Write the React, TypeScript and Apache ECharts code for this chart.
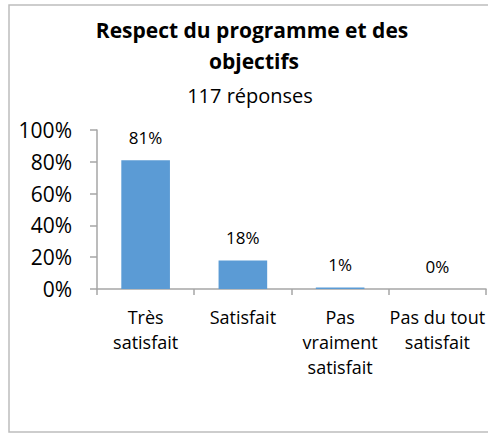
import React, { useEffect, useRef } from "react";
import * as echarts from "echarts";

const categories = ["Très\nsatisfait", "Satisfait", "Pas\nvraiment\nsatisfait", "Pas du tout\nsatisfait"];
const values = [81, 18, 1, 0];
const titleLines = ["Respect du programme et des", "objectifs"];
const subtitle = "117 réponses";

const FONT = "'Open Sans', Lato, sans-serif";

export default function App() {
  const ref = useRef<HTMLDivElement>(null);
  useEffect(() => {
    if (!ref.current) return;
    const chart = echarts.init(ref.current, undefined, { renderer: "svg" });
    chart.setOption({
      animation: false,
      backgroundColor: "#ffffff",
      textStyle: { fontFamily: FONT },
      graphic: [
        {
          type: "rect",
          shape: { x: 9, y: 5, width: 490, height: 427 },
          style: { fill: "none", stroke: "#BDBDBD", lineWidth: 1.5 },
          silent: true,
        },
        {
          type: "text",
          x: 252,
          y: 30,
          style: {
            text: titleLines[0],
            font: `bold 21px ${FONT}`,
            fill: "#000",
            textAlign: "center",
            textVerticalAlign: "middle",
          },
        },
        {
          type: "text",
          x: 254,
          y: 61,
          style: {
            text: titleLines[1],
            font: `bold 21px ${FONT}`,
            fill: "#000",
            textAlign: "center",
            textVerticalAlign: "middle",
          },
        },
        {
          type: "text",
          x: 250,
          y: 95,
          style: {
            text: subtitle,
            font: `20px ${FONT}`,
            fill: "#000",
            textAlign: "center",
            textVerticalAlign: "middle",
          },
        },
      ],
      grid: { left: 97, right: 1, top: 130, bottom: 144, containLabel: false },
      xAxis: {
        type: "category",
        data: categories,
        axisLine: { show: true, lineStyle: { color: "#A6A6A6", width: 1.5 } },
        axisTick: { show: true, length: 6, lineStyle: { color: "#A6A6A6", width: 1.5 } },
        axisLabel: {
          interval: 0,
          margin: 15,
          color: "#000",
          fontSize: 18,
          lineHeight: 25,
          fontFamily: FONT,
          align: "center",
        },
      },
      yAxis: {
        type: "value",
        min: 0,
        max: 100,
        interval: 20,
        axisLine: { show: true, lineStyle: { color: "#A6A6A6", width: 1.5 } },
        axisTick: { show: true, length: 7, lineStyle: { color: "#A6A6A6", width: 1.5 } },
        splitLine: { show: false },
        axisLabel: {
          margin: 25,
          color: "#000",
          fontSize: 21,
          fontFamily: FONT,
          formatter: "{value}%",
        },
      },
      series: [
        {
          type: "bar",
          data: values,
          barWidth: "50%",
          itemStyle: { color: "#5B9BD5" },
          label: {
            show: true,
            position: "top",
            distance: 14,
            color: "#000",
            fontSize: 17,
            fontFamily: FONT,
            formatter: "{c}%",
          },
        },
      ],
    });
    return () => chart.dispose();
  }, []);
  return (
    <div
      ref={ref}
      style={{ position: "fixed", left: 0, top: 0, width: 488, height: 433 }}
    />
  );
}
